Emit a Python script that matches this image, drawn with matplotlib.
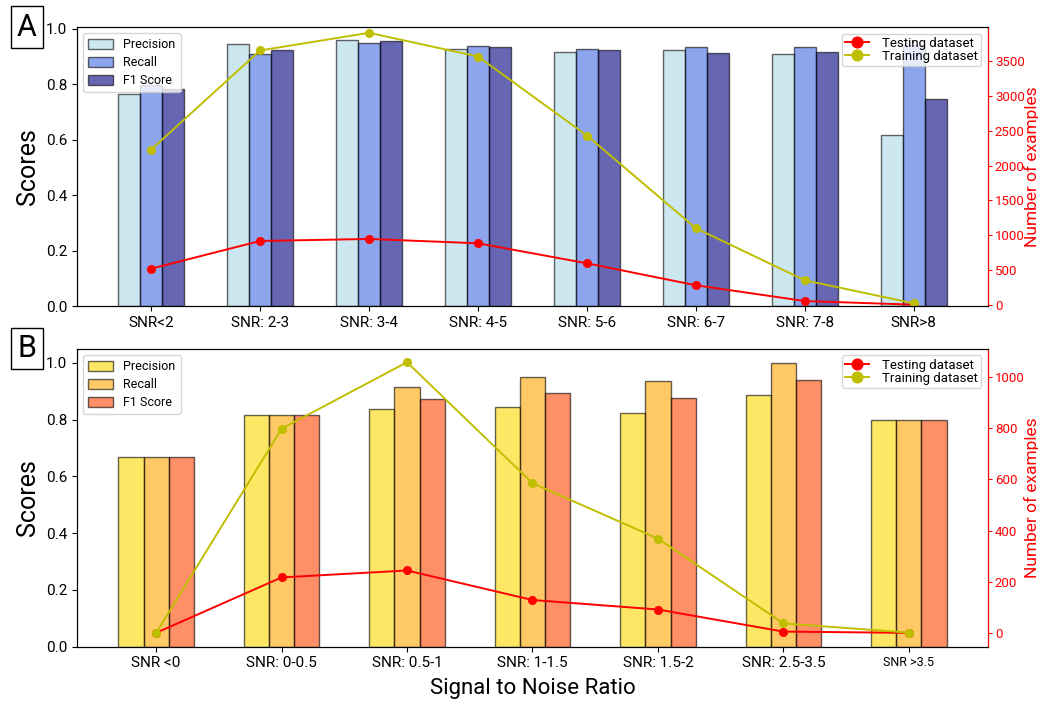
import matplotlib
matplotlib.use("Agg")
import matplotlib.pyplot as plt
import numpy as np

plt.rcParams['font.family'] = ['Roboto', 'DejaVu Sans']

# panel A: SNR bins of the first dataset
snr_a = ["SNR<2", "SNR: 2-3", "SNR: 3-4", "SNR: 4-5", "SNR: 5-6", "SNR: 6-7", "SNR: 7-8", "SNR>8"]
prec_a = [0.766, 0.945, 0.959, 0.929, 0.917, 0.924, 0.911, 0.616]
rec_a = [0.799, 0.909, 0.949, 0.937, 0.929, 0.935, 0.936, 0.942]
f1_a = [0.782, 0.925, 0.955, 0.934, 0.923, 0.912, 0.917, 0.746]
test_a = [521, 918, 947, 885, 598, 283, 57, 5]
train_a = [2228, 3649, 3902, 3562, 2429, 1100, 354, 24]

# panel B: SNR bins of the second dataset
snr_b = ["SNR <0", "SNR: 0-0.5", "SNR: 0.5-1", "SNR: 1-1.5", "SNR: 1.5-2", "SNR: 2.5-3.5", "SNR >3.5"]
prec_b = [0.667, 0.818, 0.838, 0.845, 0.822, 0.887, 0.8]
rec_b = [0.667, 0.818, 0.914, 0.949, 0.937, 1.0, 0.8]
f1_b = [0.667, 0.818, 0.874, 0.895, 0.875, 0.939, 0.8]
test_b = [2, 218, 245, 130, 93, 7, 2]
train_b = [1, 797, 1056, 585, 369, 39, 3]


def panel(ax, labels, prec, rec, f1, test, train, colors, letter, ylim2=None):
    x = np.arange(len(labels))
    w = 0.2
    ax.bar(x - w, prec, w, color=colors[0], edgecolor='black', alpha=0.6, label='Precision')
    ax.bar(x, rec, w, color=colors[1], edgecolor='black', alpha=0.6, label='Recall')
    ax.bar(x + w, f1, w, color=colors[2], edgecolor='black', alpha=0.6, label='F1 Score')
    ax.set_xticks(x)
    ax.set_xticklabels(labels, fontsize=11)
    ax.set_ylabel("Scores", fontsize=18)
    ax.yaxis.set_label_coords(-0.041, 0.5)
    ax.tick_params(axis='y', labelsize=11)
    ax.legend(loc='upper left', fontsize=9, handlelength=2.0, handleheight=0.85,
              labelspacing=0.4)

    ax2 = ax.twinx()
    ax2.plot(x, test, 'r-o', markersize=5.5, linewidth=1.4, label='Testing dataset')
    ax2.plot(x, train, 'y-o', markersize=5.5, linewidth=1.4, label='Training dataset')
    if ylim2:
        ax2.set_ylim(ylim2)
    ax2.set_ylabel("Number of examples", color='red', fontsize=12.5)
    ax2.yaxis.set_label_coords(1.0395, 0.5)
    ax2.tick_params(axis='y', colors='red', labelsize=9.5, length=3, pad=2)
    ax2.spines['right'].set_color('red')
    ax2.legend(loc='upper right', fontsize=9.5, handletextpad=1.0, markerscale=1.4,
               handlelength=1.8, borderpad=0.25, labelspacing=0.0)

    ax.text(-0.055, 1.0, letter, transform=ax.transAxes, fontsize=22,
            va='center', ha='center',
            bbox=dict(boxstyle='square,pad=0.2', fc='white', ec='black'))
    return ax, ax2


fig = plt.figure(figsize=(10.38, 7.02), dpi=100)
axA = fig.add_axes([0.0742, 0.564, 0.8776, 0.3975])
axB = fig.add_axes([0.0742, 0.0788, 0.8776, 0.4245])

panel(axA, snr_a, prec_a, rec_a, f1_a, test_a, train_a,
      ['lightblue', 'royalblue', 'navy'], 'A', ylim2=(-15, 3985))
panel(axB, snr_b, prec_b, rec_b, f1_b, test_b, train_b,
      ['gold', 'orange', 'orangered'], 'B')

axB.get_xticklabels()[-1].set_fontsize(9)
axB.set_xlabel("Signal to Noise Ratio", fontsize=16)
axB.xaxis.set_label_coords(0.5, -0.105)

fig.savefig("out.png", dpi=100)
